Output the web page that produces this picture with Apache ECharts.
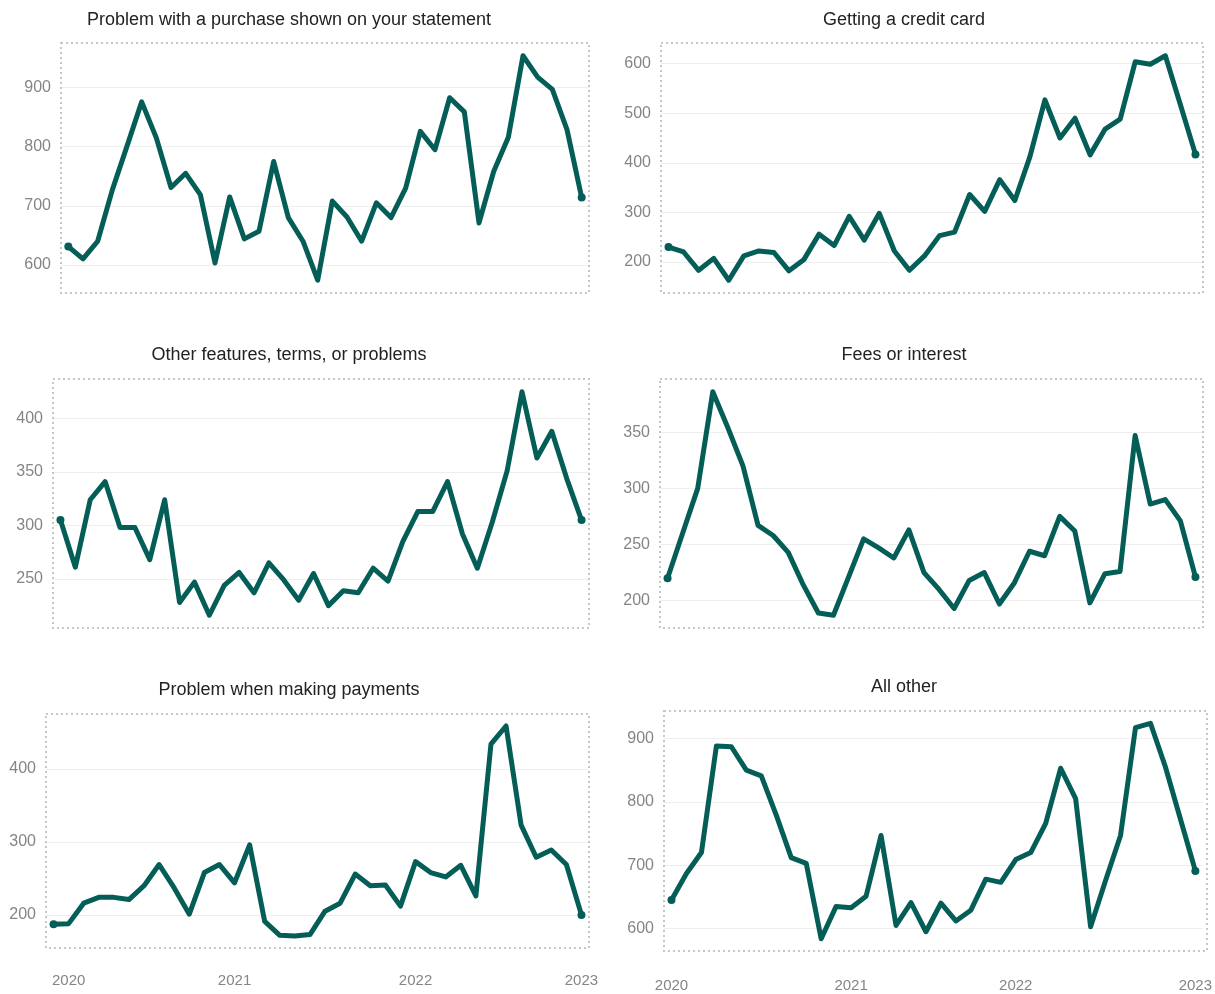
<!DOCTYPE html>
<html>
<head>
<meta charset="utf-8">
<title>Credit card complaints by issue</title>
<script src="https://cdn.jsdelivr.net/npm/echarts@6/dist/echarts.min.js"></script>
<style>
  html, body { margin: 0; padding: 0; background: #fff; }
  #chart { width: 1215px; height: 994px; }
</style>
</head>
<body>
<div id="chart"></div>
<script>
// monthly periods shared by all six panels
const months = [
  '2020-01', '2020-02', '2020-03', '2020-04', '2020-05', '2020-06',
  '2020-07', '2020-08', '2020-09', '2020-10', '2020-11', '2020-12',
  '2021-01', '2021-02', '2021-03', '2021-04', '2021-05', '2021-06',
  '2021-07', '2021-08', '2021-09', '2021-10', '2021-11', '2021-12',
  '2022-01', '2022-02', '2022-03', '2022-04', '2022-05', '2022-06',
  '2022-07', '2022-08', '2022-09', '2022-10', '2022-11', '2022-12'
]

const titles = [
  'Problem with a purchase shown on your statement',
  'Getting a credit card',
  'Other features, terms, or problems',
  'Fees or interest',
  'Problem when making payments',
  'All other'
]

const purchase = [631, 610, 640, 727, 801, 876, 815, 731, 755, 719, 603, 715,
  644, 657, 775, 680, 640, 574, 708, 681, 640, 705, 680, 730,
  826, 795, 883, 859, 671, 758, 816, 954, 918, 897, 829, 714]
const creditCard = [230, 220, 183, 207, 163, 212, 222, 219, 182, 205, 256, 233,
  292, 244, 298, 222, 183, 212, 253, 260, 336, 302, 366, 324,
  412, 527, 450, 490, 416, 468, 488, 604, 599, 616, 517, 417]
const otherFeatures = [305, 261, 324, 341, 298, 298, 268, 324, 228, 247, 216, 244,
  256, 237, 265, 249, 230, 255, 225, 239, 237, 260, 248, 285,
  313, 313, 341, 292, 260, 303, 351, 425, 363, 388, 344, 305]
const fees = [220, 260, 300, 386, 354, 320, 267, 258, 243, 214, 189, 187,
  221, 255, 247, 238, 263, 225, 210, 193, 218, 225, 197, 216,
  244, 240, 275, 262, 198, 224, 226, 347, 286, 290, 271, 221]
const payments = [187, 188, 216, 224, 224, 221, 240, 269, 237, 201, 258, 269,
  244, 296, 191, 172, 171, 173, 205, 216, 256, 240, 241, 212,
  273, 258, 252, 268, 226, 434, 459, 323, 279, 289, 269, 200]
const allOther = [645, 687, 720, 888, 887, 850, 841, 779, 712, 703, 584, 635,
  633, 651, 747, 605, 641, 595, 640, 612, 629, 678, 673, 709,
  720, 766, 853, 805, 603, 676, 747, 917, 924, 855, 773, 691]

// year tick labels on the bottom row (category index -> label)
const yearTicksLeft = { 1: '2020', 12: '2021', 24: '2022', 35: '2023' }
const yearTicksRight = { 0: '2020', 12: '2021', 23: '2022', 35: '2023' }

const panelData = [purchase, creditCard, otherFeatures, fees, payments, allOther]
const panelYears = [null, null, null, null, yearTicksLeft, yearTicksRight]

// plot boxes (px) and title anchors
const boxes = [
  { left: 61, top: 43, width: 528, height: 250, titleX: 289, titleY: 11, split: 5, margin: 25 },
  { left: 661, top: 43, width: 542, height: 250, titleX: 904, titleY: 11, split: 5, margin: 25 },
  { left: 53, top: 379, width: 536, height: 249, titleX: 289, titleY: 346, split: 5, margin: 25 },
  { left: 660, top: 379, width: 543, height: 249, titleX: 904, titleY: 346, split: 5, margin: 25 },
  { left: 46, top: 714, width: 543, height: 234, titleX: 289, titleY: 681, split: 3, margin: 25 },
  { left: 664, top: 711, width: 543, height: 240, titleX: 904, titleY: 678, split: 5, margin: 27 }
]

const lineColor = '#045e57'
const labelColor = '#858585'
const fontFamily = '"Liberation Sans", Arial, sans-serif'
const pad = 0.057

const chart = echarts.init(document.getElementById('chart'))

const option = {
  backgroundColor: '#fff',
  animation: false,
  title: [],
  grid: [],
  xAxis: [],
  yAxis: [],
  series: [],
  graphic: []
}

boxes.forEach((b, i) => {
  const years = panelYears[i]

  option.title.push({
    text: titles[i],
    left: b.titleX,
    top: b.titleY,
    textAlign: 'center',
    padding: 0,
    textStyle: { color: '#222', fontSize: 18, fontWeight: 'normal', fontFamily }
  })

  option.grid.push({ left: b.left, top: b.top, width: b.width, height: b.height })

  option.xAxis.push({
    type: 'category',
    gridIndex: i,
    data: months,
    boundaryGap: true,
    axisLine: { show: false },
    axisTick: { show: false },
    splitLine: { show: false },
    axisLabel: {
      show: !!years,
      margin: b.margin,
      color: labelColor,
      fontSize: 15,
      fontFamily,
      hideOverlap: false,
      interval: (idx) => !!years && years[idx] !== undefined,
      formatter: (val, idx) => (years && years[idx]) || ''
    }
  })

  option.yAxis.push({
    type: 'value',
    gridIndex: i,
    splitNumber: b.split,
    min: (v) => v.min - (v.max - v.min) * pad,
    max: (v) => v.max + (v.max - v.min) * pad,
    axisLine: { show: false },
    axisTick: { show: false },
    axisLabel: {
      color: labelColor,
      fontSize: 16,
      fontFamily,
      margin: 10,
      showMinLabel: false,
      showMaxLabel: false
    },
    splitLine: {
      show: true,
      showMinLine: false,
      showMaxLine: false,
      lineStyle: { color: '#eeeeee', width: 1 }
    }
  })

  option.series.push({
    type: 'line',
    xAxisIndex: i,
    yAxisIndex: i,
    data: panelData[i],
    showAllSymbol: true,
    symbol: 'circle',
    symbolSize: (val, params) =>
      (params.dataIndex === 0 || params.dataIndex === months.length - 1) ? 8 : 0,
    itemStyle: { color: lineColor },
    lineStyle: { color: lineColor, width: 5, cap: 'round', join: 'round' },
    z: 3
  })

  option.graphic.push({
    type: 'rect',
    silent: true,
    z: 1,
    shape: { x: b.left, y: b.top, width: b.width, height: b.height },
    style: { fill: 'none', stroke: '#c6c6c6', lineWidth: 2, lineDash: [2, 3] }
  })
})

chart.setOption(option)
</script>
</body>
</html>
